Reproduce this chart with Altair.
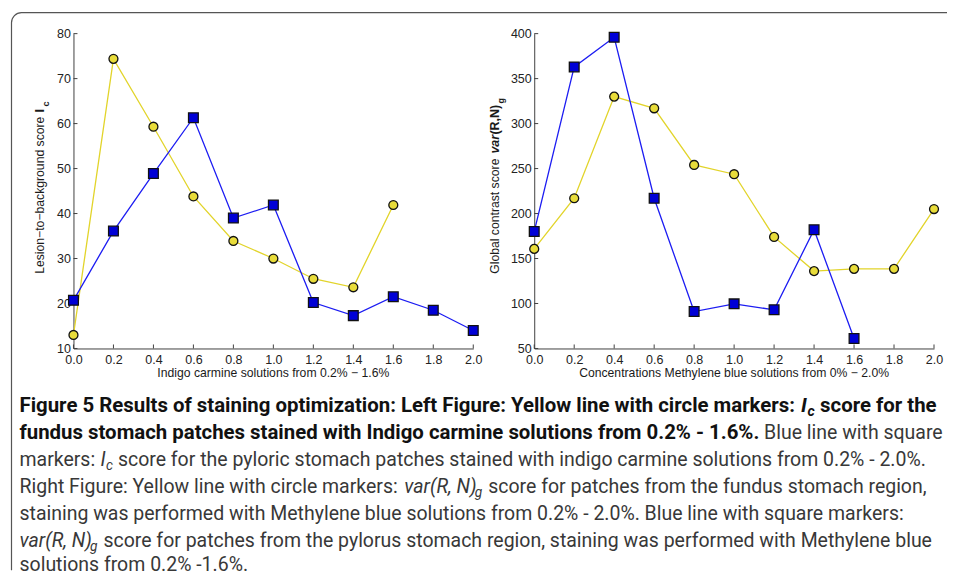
import altair as alt
import pandas as pd

# ---------------- data ----------------
conc = [0.0, 0.2, 0.4, 0.6, 0.8, 1.0, 1.2, 1.4, 1.6, 1.8, 2.0]
left_fundus = [13.0, 74.4, 59.3, 43.8, 33.9, 30.0, 25.5, 23.6, 41.9]
left_pyloric = [20.7, 36.1, 48.9, 61.3, 39.0, 41.9, 20.2, 17.3, 21.5, 18.5, 14.0]
right_fundus = [160.7, 217.0, 330.0, 317.0, 254.0, 243.7, 174.0, 136.0, 138.5, 138.5, 205.0]
right_pylorus = [180.0, 363.0, 396.0, 217.0, 91.0, 99.6, 93.0, 182.0, 61.0]
x_ticks = [0.0, 0.2, 0.4, 0.6, 0.8, 1.0, 1.2, 1.4, 1.6, 1.8, 2.0]
left_y_ticks = [10, 20, 30, 40, 50, 60, 70, 80]
right_y_ticks = [50, 100, 150, 200, 250, 300, 350, 400]

left_xtitle = "Indigo carmine solutions from 0.2% \u2212 1.6%"
right_xtitle = "Concentrations Methylene blue solutions from 0% \u2212 2.0%"
left_ytitle = "Lesion\u2212to\u2212background score"
right_ytitle = "Global contrast score"

# ---------------- style ----------------
FONT = "Liberation Sans"
CAP = "Roboto"
YEL_LINE = "#e2d42a"
YEL_FILL = "#e8dc3a"
BLU_LINE = "#1c1cf2"
BLU_FILL = "#0000d6"
AX = "#404040"
W, H = 400, 315
OX, OY = 73, 33  # page position of the left plot origin

one = alt.Data(values=[{"a": 1}])


def txt(s, x, y, size=12.2, weight="normal", style="normal", angle=0,
        align="left", baseline="alphabetic", font=FONT, color="#1a1a1a"):
    return alt.Chart(one).mark_text(
        text=s, fontSize=size, fontWeight=weight, fontStyle=style, angle=angle,
        align=align, baseline=baseline, font=font, color=color
    ).encode(x=alt.value(x), y=alt.value(y))


def panel(fundus, pyl, ydom, yticks):
    xs = alt.Scale(domain=[0, 2], nice=False, zero=False)
    ys = alt.Scale(domain=ydom, nice=False, zero=False)
    xax = alt.Axis(values=x_ticks, format=".1f", title=None, grid=False, ticks=False,
                   tickSize=0, domainColor=AX, domainWidth=1, labelFont=FONT,
                   labelFontSize=12.5, labelColor="#222", labelPadding=5,
                   labelOverlap=False, labelFlush=False, labelBound=False)
    yax = alt.Axis(values=yticks, title=None, grid=False, ticks=False, tickSize=0,
                   domainColor=AX, domainWidth=1, labelFont=FONT, labelFontSize=12.5,
                   labelColor="#222", labelPadding=3, labelOverlap=False,
                   labelFlush=False, labelBound=False)
    X = lambda f: alt.X(f, scale=xs, axis=xax)
    Y = lambda f: alt.Y(f, scale=ys, axis=yax)

    df_f = pd.DataFrame({"x": conc[:len(fundus)], "y": fundus})
    df_p = pd.DataFrame({"x": conc[:len(pyl)], "y": pyl})
    df_xt = pd.DataFrame({"v": x_ticks})
    df_yt = pd.DataFrame({"v": yticks})

    yline = alt.Chart(df_f).mark_line(color=YEL_LINE, strokeWidth=1.3).encode(x=X("x:Q"), y=Y("y:Q"))
    ypts = alt.Chart(df_f).mark_point(shape="circle", filled=True, size=80, fill=YEL_FILL,
                                      stroke="#111", strokeWidth=1.3, opacity=1).encode(x=X("x:Q"), y=Y("y:Q"))
    bline = alt.Chart(df_p).mark_line(color=BLU_LINE, strokeWidth=1.3).encode(x=X("x:Q"), y=Y("y:Q"))
    bpts = alt.Chart(df_p).mark_point(shape="square", filled=True, size=95, fill=BLU_FILL,
                                      stroke="#111", strokeWidth=1.3, opacity=1).encode(x=X("x:Q"), y=Y("y:Q"))
    xt = alt.Chart(df_xt).mark_rule(color=AX, strokeWidth=1).encode(
        x=X("v:Q"), y=alt.value(H), y2=alt.value(H - 4))
    yt = alt.Chart(df_yt).mark_rule(color=AX, strokeWidth=1).encode(
        y=Y("v:Q"), x=alt.value(0), x2=alt.value(4))
    return [xt, yt, yline, ypts, bline, bpts]


# ---------------- caption ----------------
# (text, page x, page baseline y, weight, style, size)
BS, RS = 20.4, 19.5
BSS, RSS = 14.3, 13.7
cap_pieces = [
    ("Figure 5 Results of staining optimization: Left Figure: Yellow line with circle markers:", 19, 412, "bold", "normal", BS),
    ("I", 801, 412, "bold", "italic", BS),
    ("c", 807.5, 416, "bold", "italic", BSS),
    ("score for the", 820, 412, "bold", "normal", BS),
    ("fundus stomach patches stained with Indigo carmine solutions from 0.2% - 1.6%.", 19, 439, "bold", "normal", BS),
    ("Blue line with square", 764, 439, "normal", "normal", RS),
    ("markers:", 19, 466, "normal", "normal", RS),
    ("I", 100, 466, "normal", "italic", RS),
    ("c", 105.5, 470, "normal", "italic", RSS),
    ("score for the pyloric stomach patches stained with indigo carmine solutions from 0.2% - 2.0%.", 117.5, 466, "normal", "normal", RS),
    ("Right Figure: Yellow line with circle markers:", 19, 493, "normal", "normal", RS),
    ("var(R, N)", 404, 493, "normal", "italic", RS),
    ("g", 474.5, 497, "normal", "italic", RSS),
    ("score for patches from the fundus stomach region,", 488, 493, "normal", "normal", RS),
    ("staining was performed with Methylene blue solutions from 0.2% - 2.0%. Blue line with square markers:", 19, 520, "normal", "normal", RS),
    ("var(R, N)", 19, 547, "normal", "italic", RS),
    ("g", 89.5, 551, "normal", "italic", RSS),
    ("score for patches from the pylorus stomach region, staining was performed with Methylene blue", 103, 547, "normal", "normal", RS),
    ("solutions from 0.2% -1.6%.", 19, 571, "normal", "normal", RS),
]

border = alt.Chart(one).mark_rect(
    fillOpacity=0, stroke="#555", strokeWidth=1.2, cornerRadiusTopLeft=10,
    strokeDash=[926, 1494, 566, 4000]
).encode(x=alt.value(11 - OX), x2=alt.value(947 - OX), y=alt.value(12 - OY), y2=alt.value(570 - OY))

cap_layers = []
for s, px, py, wt, st, sz in cap_pieces:
    cap_layers.append(txt(s, px - OX, py - OY, size=sz, weight=wt, style=st, font=CAP,
                          color="#111" if wt == "bold" else "#383838"))

# ---------------- left panel ----------------
left_titles = [
    txt(left_ytitle, 40 - OX, 116 - OY, angle=270, align="right", baseline="middle"),
    txt("I", 40 - OX, 112 - OY, size=12.5, weight="bold", angle=270, align="left", baseline="middle"),
    txt("c", 46 - OX, 106 - OY, size=9, weight="bold", angle=270, align="left", baseline="middle"),
    txt(left_xtitle, W / 2, 373 - OY, align="center", baseline="middle"),
]
left = alt.layer(border, *panel(left_fundus, left_pyloric, [10, 80], left_y_ticks),
                 *left_titles, *cap_layers).properties(width=W, height=H)

# ---------------- right panel ----------------
RX = 534
right_titles = [
    txt(right_ytitle, 495 - RX, 158 - OY, angle=270, align="right", baseline="middle"),
    txt("var", 495 - RX, 153 - OY, size=12.5, weight="bold", style="italic", angle=270, align="left", baseline="middle"),
    txt("(R,N)", 495 - RX, 134 - OY, size=12.5, weight="bold", angle=270, align="left", baseline="middle"),
    txt("g", 501 - RX, 103 - OY, size=9, weight="bold", angle=270, align="left", baseline="middle"),
    txt(right_xtitle, W / 2, 373 - OY, align="center", baseline="middle"),
]
right = alt.layer(*panel(right_fundus, right_pylorus, [50, 400], right_y_ticks),
                  *right_titles).properties(width=W, height=H)

chart = alt.HConcatChart(
    hconcat=[left, right], spacing=61, bounds="flush",
    padding={"left": 2.5, "top": 3.5, "right": 0, "bottom": 0},
    background="white",
).configure_view(strokeWidth=0)

chart.save("out.html", embed_options={"renderer": "svg", "actions": False})
